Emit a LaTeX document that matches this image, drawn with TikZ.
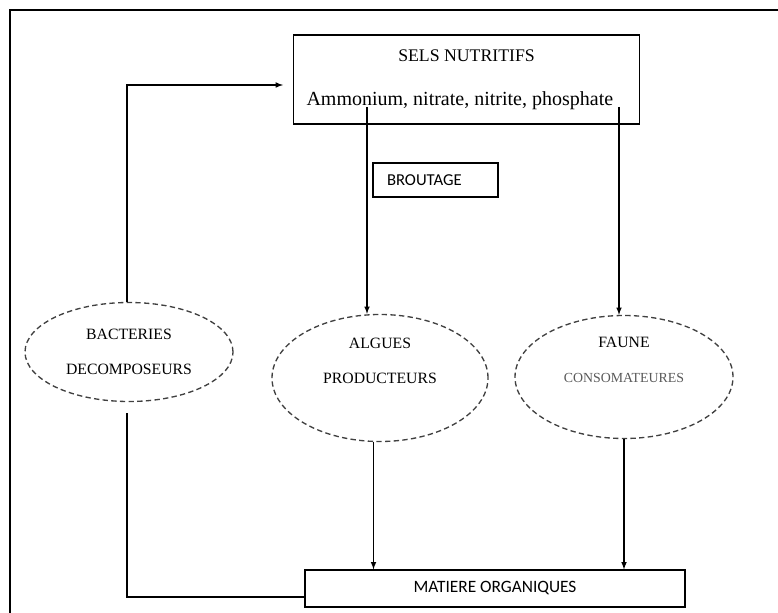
\documentclass[tikz,border=0pt]{standalone}
\usepackage{fontspec}
\setmainfont{Liberation Serif}
\newfontfamily\calibri{Carlito}
\usetikzlibrary{shapes.geometric, arrows, positioning}

\begin{document}
\begin{tikzpicture}[x=0.75pt, y=-0.75pt,
    salts/.style={rectangle, draw, line width=0.9pt, minimum width=260pt, minimum height=66.75pt, align=center, font=\fontsize{15}{17}\selectfont},
    tag/.style={rectangle, draw, line width=0.9pt, font=\calibri\fontsize{12.5}{14}\selectfont},
    organism/.style={ellipse, draw=black!75, line width=1pt, dash pattern=on 4pt off 2.5pt, align=center, font=\fontsize{11.8}{14}\selectfont},
    organism text/.style={align=center, font=\fontsize{11.8}{14}\selectfont, yshift=12.75pt},
    flow/.style={draw, line width=0.9pt, -latex}
]
    \useasboundingbox (0,0) rectangle (778,613);
    % Frame
    \draw[line width=1.5pt] (10,613) -- (10,10) -- (778,10);

    % Nutrients
    \node[salts] (sels) at (466.5,79.5) {{\fontsize{13.3}{15}\selectfont SELS NUTRITIFS}\\[16pt]Ammonium, nitrate, nitrite, phosphate\hspace*{10pt}};
    \node[tag, minimum width=93.75pt, minimum height=25.5pt, text width=72.75pt, align=left] (brout) at (435.5,180) {BROUTAGE};

    % Organisms
    \node[organism, minimum width=156pt, minimum height=74.25pt] (bact) at (129,352) {BACTERIES\\[12pt]DECOMPOSEURS};
    \node[organism, minimum width=162pt, minimum height=95.25pt,
        label={[organism text]center:ALGUES\\[12pt]PRODUCTEURS}] (algues) at (380,378) {};
    \node[organism, minimum width=163.5pt, minimum height=92.25pt,
        label={[organism text]center:FAUNE\\[12pt]{\color{black!65}\fontsize{10.4}{12}\selectfont CONSOMATEURES}}] (faune) at (624,377) {};

    % Organic matter
    \node[tag, minimum width=285pt, minimum height=27.75pt, font=\calibri\fontsize{13}{15}\selectfont] (mat) at (495,588.5) {MATIERE ORGANIQUES};

    % Connectors
    \coordinate (s1) at (367,107);
    \coordinate (s2) at (619,107);
    \coordinate (b1) at (283,85);
    \coordinate (b2) at (127,413);
    \draw[flow] (s1) -- (s1 |- algues.north);
    \draw[flow] (s2) -- (s2 |- faune.north);
    \draw[flow] (b2 |- bact.north) |- (b1);
    \draw[line width=0.9pt] (b2) |- ([yshift=-6.4pt]mat.west);
    \draw[flow] ([xshift=-4.875pt]algues.south) -- ([xshift=-4.875pt]algues.south |- mat.north);
    \draw[flow] (faune.south) -- (faune.south |- mat.north);
\end{tikzpicture}
\end{document}
